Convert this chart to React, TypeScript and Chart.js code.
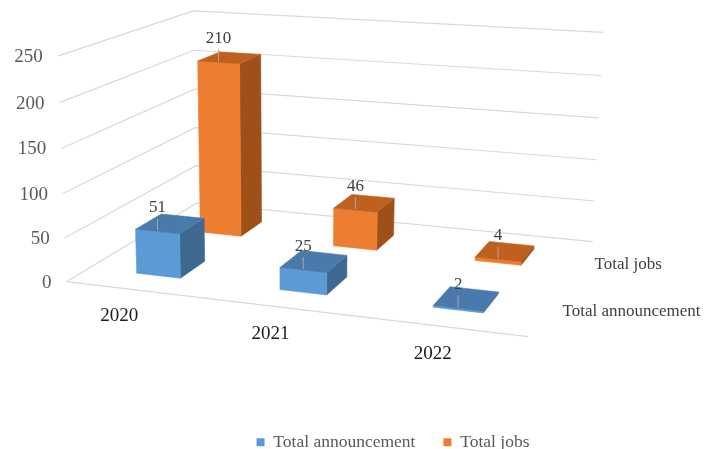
import React, { useEffect, useRef } from 'react';
import { Chart, registerables } from 'chart.js';

Chart.register(...registerables);

const categories = ['2020', '2021', '2022'];
const seriesNames = ['Total announcement', 'Total jobs'];
const announcements = [51, 25, 2];
const jobs = [210, 46, 4];
const yTicks = [0, 50, 100, 150, 200, 250];

const FONT = "'Liberation Serif', 'Times New Roman', serif";
const seriesColors = ['#5B9BD5', '#ED7D31'];
const faceColors = [
  { front: '#5B9BD5', top: '#4A7AAB', side: '#3E6890' },
  { front: '#ED7D31', top: '#BF601F', side: '#9E5019' },
];

// Calibration of the 3D frame: normalized world (x along categories, z depth, y value fraction) -> canvas px
const CAL: number[][] = [
  [0, 0, 0, 68, 281],
  [0, 0, 1, 57, 57],
  [0, 0, 0.2, 65, 237],
  [0, 0, 0.6, 60, 148],
  [0, 1, 1, 195, 10],
  [0, 1, 0, 195, 205],
  [1, 1, 1, 603, 33],
  [1, 1, 0, 593, 240],
  [1, 0, 0, 528, 338],
];

const BAR_HALF_W = 0.052;
const BAR_HALF_D = 0.095;

function solveProjection() {
  const S = 500;
  const rows: number[][] = [];
  const rhs: number[] = [];
  for (const [x, z, y, u0, v0] of CAL) {
    const u = u0 / S, v = v0 / S;
    rows.push([x, y, z, 1, 0, 0, 0, 0, -u * x, -u * y, -u * z]);
    rhs.push(u);
    rows.push([0, 0, 0, 0, x, y, z, 1, -v * x, -v * y, -v * z]);
    rhs.push(v);
  }
  const n = 11;
  const M: number[][] = Array.from({ length: n }, () => new Array(n + 1).fill(0));
  for (let r = 0; r < rows.length; r++) {
    for (let i = 0; i < n; i++) {
      for (let j = 0; j < n; j++) M[i][j] += rows[r][i] * rows[r][j];
      M[i][n] += rows[r][i] * rhs[r];
    }
  }
  for (let c = 0; c < n; c++) {
    let p = c;
    for (let r = c + 1; r < n; r++) if (Math.abs(M[r][c]) > Math.abs(M[p][c])) p = r;
    const tmp = M[c]; M[c] = M[p]; M[p] = tmp;
    for (let r = 0; r < n; r++) {
      if (r === c) continue;
      const f = M[r][c] / M[c][c];
      for (let k = c; k <= n; k++) M[r][k] -= f * M[c][k];
    }
  }
  const p = M.map((row, i) => row[n] / row[i]);
  return (x: number, z: number, y: number): [number, number] => {
    const w = p[8] * x + p[9] * y + p[10] * z + 1;
    return [
      (S * (p[0] * x + p[1] * y + p[2] * z + p[3])) / w,
      (S * (p[4] * x + p[5] * y + p[6] * z + p[7])) / w,
    ];
  };
}

const P = solveProjection();

function poly(ctx: CanvasRenderingContext2D, pts: [number, number][], color: string) {
  ctx.beginPath();
  ctx.moveTo(pts[0][0], pts[0][1]);
  for (let i = 1; i < pts.length; i++) ctx.lineTo(pts[i][0], pts[i][1]);
  ctx.closePath();
  ctx.fillStyle = color;
  ctx.fill();
  ctx.strokeStyle = color;
  ctx.lineWidth = 0.6;
  ctx.stroke();
}

function polyline(ctx: CanvasRenderingContext2D, pts: [number, number][]) {
  ctx.beginPath();
  ctx.moveTo(pts[0][0], pts[0][1]);
  for (let i = 1; i < pts.length; i++) ctx.lineTo(pts[i][0], pts[i][1]);
  ctx.stroke();
}

const threeD = {
  id: 'threeD',
  beforeDatasetsDraw(chart: any) {
    const ctx: CanvasRenderingContext2D = chart.ctx;
    const xs = chart.scales.x;
    const ys = chart.scales.y;
    const xn = (i: number) => (xs.getPixelForValue(i) - xs.left) / xs.width;
    const yn = (v: number) => (ys.bottom - ys.getPixelForValue(v)) / ys.height;
    const nRows = chart.data.datasets.length;
    const zn = (s: number) => (s + 0.5) / nRows;

    ctx.save();
    // gridlines on walls
    ctx.strokeStyle = '#D9D9D9';
    ctx.lineWidth = 1.2;
    for (const t of yTicks) {
      const y = yn(t);
      polyline(ctx, [P(0, 0, y), P(0, 1, y), P(1, 1, y)]);
    }
    polyline(ctx, [P(0, 0, 0), P(1, 0, 0)]);

    // value axis labels
    ctx.font = `19px ${FONT}`;
    ctx.fillStyle = '#595959';
    ctx.textAlign = 'right';
    ctx.textBaseline = 'middle';
    for (const t of yTicks) {
      const [px, py] = P(0, 0, yn(t));
      ctx.fillText(String(t), px - 15, py + 1);
    }

    // category labels
    ctx.font = `19px ${FONT}`;
    ctx.fillStyle = '#1A1A1A';
    ctx.textAlign = 'center';
    categories.forEach((c, i) => {
      const [px, py] = P(xn(i), -0.12, 0);
      ctx.fillText(c, px, py + 14);
    });

    // series labels (depth axis)
    ctx.font = `17px ${FONT}`;
    ctx.fillStyle = '#404040';
    ctx.textAlign = 'left';
    chart.data.datasets.forEach((ds: any, s: number) => {
      const [px, py] = P(1, zn(s), 0);
      ctx.fillText(ds.label, px + 16, py + 2);
    });

    // bars, back row first
    const labels: { x: number; y: number; text: string }[] = [];
    for (let s = nRows - 1; s >= 0; s--) {
      const ds = chart.data.datasets[s];
      const col = faceColors[s];
      ds.data.forEach((v: number, i: number) => {
        const xc = xn(i);
        const zc = zn(s);
        const x0 = xc - BAR_HALF_W, x1 = xc + BAR_HALF_W;
        const z0 = zc - BAR_HALF_D, z1 = zc + BAR_HALF_D;
        const y1 = yn(v);
        poly(ctx, [P(x1, z0, 0), P(x1, z1, 0), P(x1, z1, y1), P(x1, z0, y1)], col.side);
        poly(ctx, [P(x0, z0, 0), P(x1, z0, 0), P(x1, z0, y1), P(x0, z0, y1)], col.front);
        poly(ctx, [P(x0, z0, y1), P(x1, z0, y1), P(x1, z1, y1), P(x0, z1, y1)], col.top);
        const [lx, ly] = P(xc, z0, y1);
        labels.push({ x: lx, y: ly, text: String(v) });
      });
    }

    // data labels with leader lines
    ctx.font = `17px ${FONT}`;
    ctx.textAlign = 'center';
    ctx.textBaseline = 'middle';
    for (const l of labels) {
      ctx.strokeStyle = '#A6A6A6';
      ctx.lineWidth = 1;
      ctx.beginPath();
      ctx.moveTo(l.x, l.y - 13);
      ctx.lineTo(l.x, l.y - 1);
      ctx.stroke();
      ctx.fillStyle = '#404040';
      ctx.fillText(l.text, l.x, l.y - 24);
    }
    ctx.restore();
    return false;
  },
};

export default function App() {
  const ref = useRef<HTMLCanvasElement>(null);
  useEffect(() => {
    if (!ref.current) return;
    const chart = new Chart(ref.current, {
      type: 'bar',
      data: {
        labels: categories,
        datasets: [
          { label: seriesNames[0], data: announcements, backgroundColor: seriesColors[0] },
          { label: seriesNames[1], data: jobs, backgroundColor: seriesColors[1] },
        ],
      },
      options: {
        responsive: false,
        animation: false,
        layout: { padding: { left: 78, right: 0, top: 0, bottom: -12 } },
        scales: {
          x: { display: false },
          y: { display: false, min: 0, max: 250 },
        },
        plugins: {
          legend: {
            position: 'bottom',
            labels: {
              boxWidth: 8,
              boxHeight: 8,
              padding: 28,
              color: '#595959',
              font: { family: FONT, size: 17.5 },
            },
          },
          tooltip: { enabled: false },
        },
      },
      plugins: [threeD as any],
    });
    return () => chart.destroy();
  }, []);
  return (
    <div style={{ position: 'fixed', left: 0, top: 0, width: 708, height: 449, background: '#fff' }}>
      <canvas ref={ref} width={708} height={449} />
    </div>
  );
}
